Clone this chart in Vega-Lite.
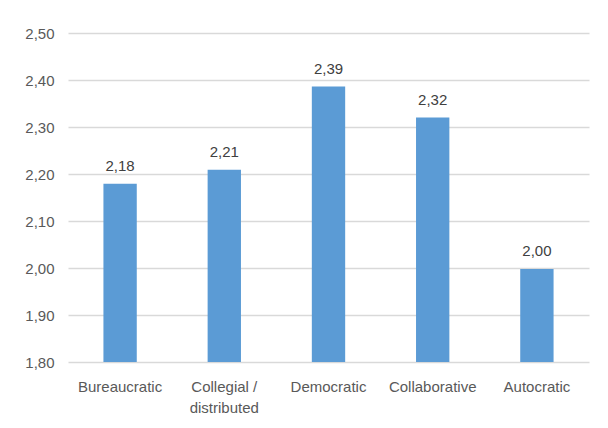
{
  "$schema": "https://vega.github.io/schema/vega-lite/v6.json",
  "width": 521,
  "height": 329,
  "autosize": "none",
  "padding": {"left": 68, "top": 33, "right": 19, "bottom": 66},
  "background": "white",
  "config": {
    "locale": {"number": {"decimal": ",", "thousands": ".", "grouping": [3], "currency": ["", " €"]}},
    "view": {"stroke": null},
    "font": "Liberation Sans"
  },
  "data": {
    "values": [
      {"style": "Bureaucratic", "value": 2.179},
      {"style": "Collegial / distributed", "value": 2.209},
      {"style": "Democratic", "value": 2.386},
      {"style": "Collaborative", "value": 2.32},
      {"style": "Autocratic", "value": 1.998}
    ]
  },
  "encoding": {
    "x": {
      "field": "style",
      "type": "nominal",
      "sort": null,
      "scale": {"paddingInner": 0.68, "paddingOuter": 0.34},
      "axis": {
        "title": null,
        "labelAngle": 0,
        "labelFontSize": 15,
        "labelColor": "#595959",
        "labelPadding": 17,
        "labelLineHeight": 21,
        "ticks": false,
        "domain": false,
        "labelExpr": "datum.value == 'Collegial / distributed' ? ['Collegial /', 'distributed'] : datum.value"
      }
    },
    "y": {
      "field": "value",
      "type": "quantitative",
      "scale": {"domain": [1.8, 2.5], "zero": false, "nice": false},
      "axis": {
        "title": null,
        "values": [1.8, 1.9, 2.0, 2.1, 2.2, 2.3, 2.4, 2.5],
        "format": ".2f",
        "labelFontSize": 15,
        "labelColor": "#595959",
        "labelPadding": 14,
        "ticks": false,
        "domain": false,
        "grid": true,
        "gridColor": "#D9D9D9",
        "gridWidth": 1.5
      }
    }
  },
  "layer": [
    {
      "mark": {"type": "bar", "color": "#5B9BD5"},
      "encoding": {"y2": {"datum": 1.8}}
    },
    {
      "mark": {"type": "text", "baseline": "bottom", "dy": -10, "fontSize": 15, "color": "#404040"},
      "encoding": {"text": {"field": "value", "type": "quantitative", "format": ".2f"}}
    }
  ]
}
